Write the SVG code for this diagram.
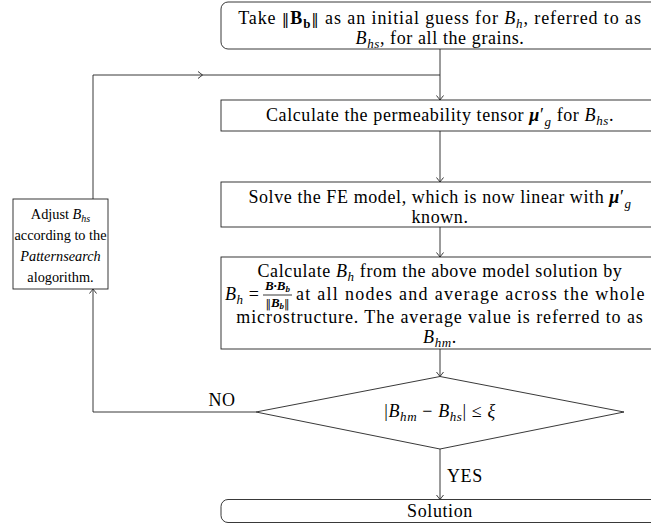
<svg xmlns="http://www.w3.org/2000/svg" width="651" height="530" viewBox="0 0 651 530">
<style>
.t{font-family:"Liberation Serif","DejaVu Serif",serif;font-size:18px;fill:#000;text-anchor:middle;letter-spacing:0.6px}
.w{letter-spacing:0.9px}
.sm{font-size:14.3px;letter-spacing:0}
.s{text-anchor:start}
.i{font-style:italic}
.bi{font-style:italic;font-weight:bold}
.b{font-weight:bold}
.sub{font-size:13px}
.sub2{font-size:10px}
.nb{font-family:"DejaVu Serif",serif;font-size:15px}
.box{fill:#fff;stroke:#222;stroke-width:0.9}
.ln{fill:none;stroke:#222;stroke-width:0.9}
</style>
<defs>
<marker id="ah" viewBox="-6 -5 10 10" markerWidth="10" markerHeight="10" refX="0" refY="0" orient="auto" markerUnits="userSpaceOnUse">
<path d="M-4.5,-3.5 Q-1,-0.8 0,0 Q-1,0.8 -4.5,3.5" fill="none" stroke="#222" stroke-width="0.9"/>
</marker>
</defs>

<g id="connectors">
<path class="ln" d="M440,49 V100" marker-end="url(#ah)"/>
<path class="ln" d="M93,199 V75 H440"/>
<path class="ln" d="M198,71.5 Q201.5,74.2 202.5,75 Q201.5,75.8 198,78.5"/>
<path class="ln" d="M440,131 V182" marker-end="url(#ah)"/>
<path class="ln" d="M440,227 V257" marker-end="url(#ah)"/>
<path class="ln" d="M440,349 V376.5" marker-end="url(#ah)"/>
<path class="ln" d="M440,449 V499.5" marker-end="url(#ah)"/>
<path class="ln" d="M256,412 H93 V289" marker-end="url(#ah)"/>
<text class="t" x="222" y="406">NO</text>
<text class="t s" x="447" y="482">YES</text>
</g>

<g id="start">
<rect class="box" x="221" y="2" width="440" height="47" rx="7"/>
<text class="t w" x="440" y="24">Take <tspan class="nb">‖</tspan><tspan class="b">B</tspan><tspan class="b sub" dy="4">b</tspan><tspan class="nb" dy="-4">‖</tspan> as an initial guess for <tspan class="i">B</tspan><tspan class="i sub" dy="4">h</tspan><tspan dy="-4">, referred to as</tspan></text>
<text class="t" x="440" y="44"><tspan class="i">B</tspan><tspan class="i sub" dy="4">hs</tspan><tspan dy="-4">, for all the grains.</tspan></text>
</g>

<g id="permeability">
<rect class="box" x="221" y="100" width="440" height="31"/>
<text class="t" x="440" y="121">Calculate the permeability tensor <tspan class="bi">μ</tspan>′<tspan class="i sub" dy="5">g</tspan><tspan dy="-5"> for </tspan><tspan class="i">B</tspan><tspan class="i sub" dy="4">hs</tspan><tspan dy="-4">.</tspan></text>
</g>

<g id="solve">
<rect class="box" x="221" y="182" width="440" height="45"/>
<text class="t" x="440" y="203">Solve the FE model, which is now linear with <tspan class="bi">μ</tspan>′<tspan class="i sub" dy="5">g</tspan></text>
<text class="t" x="440" y="223">known.</text>
</g>

<g id="average">
<rect class="box" x="221" y="257" width="440" height="92"/>
<text class="t" x="440" y="277">Calculate <tspan class="i">B</tspan><tspan class="i sub" dy="4">h</tspan><tspan dy="-4"> from the above model solution by</tspan></text>
<text class="t s" x="225" y="300"><tspan class="i">B</tspan><tspan class="i sub" dy="4">h</tspan><tspan dy="-4"> =</tspan></text>
<text class="t" x="277.5" y="290" style="font-size:13px;letter-spacing:0"><tspan class="bi">B·B</tspan><tspan class="bi" style="font-size:9px" dy="2">b</tspan></text>
<line class="ln" x1="263" y1="295" x2="292" y2="295"/>
<text class="t" x="277.5" y="307" style="font-size:13px;letter-spacing:0"><tspan class="nb" style="font-size:11px">‖</tspan><tspan class="bi">B</tspan><tspan class="bi" style="font-size:9px" dy="2">b</tspan><tspan class="nb" style="font-size:11px" dy="-2">‖</tspan></text>
<text class="t s" x="296" y="300" textLength="349" lengthAdjust="spacing">at all nodes and average across the whole</text>
<text class="t w" x="440" y="323">microstructure. The average value is referred to as</text>
<text class="t" x="440" y="343"><tspan class="i">B</tspan><tspan class="i sub" dy="4">hm</tspan><tspan dy="-4">.</tspan></text>
</g>

<g id="decision">
<polygon class="box" points="440,376.5 624,412 440,449 256,412"/>
<text class="t" x="440" y="417">|<tspan class="i">B</tspan><tspan class="i sub" dy="4">hm</tspan><tspan dy="-4"> − </tspan><tspan class="i">B</tspan><tspan class="i sub" dy="4">hs</tspan><tspan dy="-4">| ≤ </tspan><tspan class="i">ξ</tspan></text>
</g>

<g id="solution">
<rect class="box" x="221" y="499.5" width="440" height="23" rx="7"/>
<text class="t" x="440" y="517">Solution</text>
</g>

<g id="adjust">
<rect class="box" x="13" y="199" width="95" height="90"/>
<text class="t sm" x="60.5" y="219">Adjust <tspan class="i">B</tspan><tspan class="i sub2" dy="3">hs</tspan></text>
<text class="t sm" x="60.5" y="240">according to the</text>
<text class="t sm i" x="60.5" y="261">Patternsearch</text>
<text class="t sm" x="60.5" y="282">alogorithm.</text>
</g>
</svg>
